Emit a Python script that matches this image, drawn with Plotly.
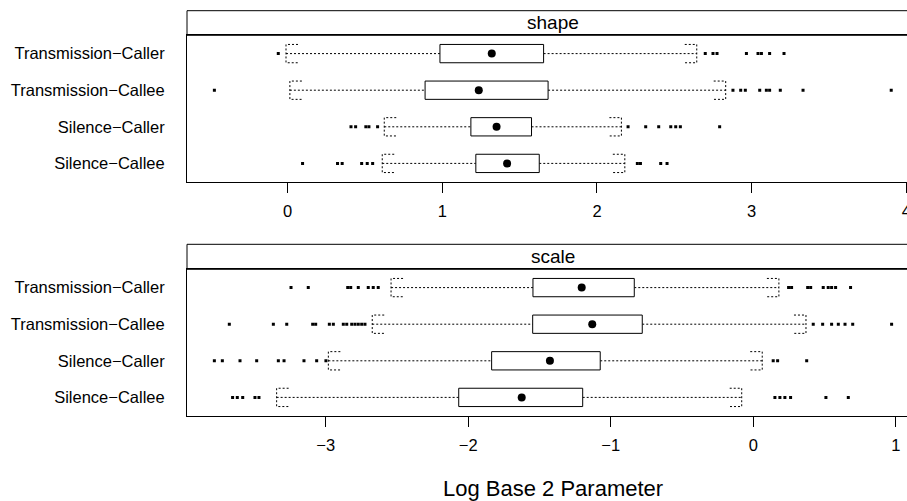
import plotly.graph_objects as go

# ---- data -------------------------------------------------------------
groups = ["Transmission−Caller", "Transmission−Callee", "Silence−Caller", "Silence−Callee"]
group_y = [4, 3, 2, 1]

# shape parameter: five-number summaries and outlying points per group
shape_lo = [-0.01, 0.015, 0.625, 0.612]
shape_q1 = [0.985, 0.889, 1.185, 1.217]
shape_med = [1.320, 1.236, 1.351, 1.419]
shape_q3 = [1.655, 1.684, 1.577, 1.627]
shape_hi = [2.645, 2.832, 2.158, 2.180]
shape_out = [
    [-0.06, 2.70, 2.75, 2.776, 2.966, 3.041, 3.063, 3.116, 3.209],
    [-0.473, 2.879, 2.929, 2.959, 3.052, 3.095, 3.116, 3.185, 3.332, 3.902],
    [0.41, 0.44, 0.506, 0.526, 0.582, 2.201, 2.315, 2.399, 2.477, 2.509, 2.539, 2.793],
    [0.097, 0.323, 0.353, 0.479, 0.515, 0.55, 2.261, 2.281, 2.412, 2.453],
]

# scale parameter
scale_lo = [-2.542, -2.674, -2.982, -3.345]
scale_q1 = [-1.546, -1.548, -1.836, -2.067]
scale_med = [-1.204, -1.130, -1.427, -1.625]
scale_q3 = [-0.835, -0.779, -1.074, -1.197]
scale_hi = [0.180, 0.370, 0.063, -0.081]
scale_out = [
    [-3.244, -3.123, -2.846, -2.825, -2.772, -2.702, -2.667, -2.632,
     0.248, 0.269, 0.382, 0.403, 0.491, 0.526, 0.550, 0.578, 0.683],
    [-3.677, -3.368, -3.274, -3.092, -3.071, -2.975, -2.947, -2.877, -2.853,
     -2.818, -2.795, -2.772, -2.748, -2.725,
     0.421, 0.487, 0.550, 0.597, 0.644, 0.698, 0.971],
    [-3.782, -3.726, -3.602, -3.485, -3.333, -3.293, -3.153, -3.064, -2.999,
     0.140, 0.171, 0.375],
    [-3.654, -3.621, -3.583, -3.497, -3.469, 0.152, 0.187, 0.222, 0.262, 0.510, 0.667],
]

shape_ticks = [0, 1, 2, 3, 4]
scale_ticks = [-3, -2, -1, 0, 1]

# ---- layout constants -------------------------------------------------
W, H = 907, 501
ML = 187
PLOT_W = W - ML
FONT = "Liberation Sans, Arial, Helvetica, sans-serif"
BOX_HALF = 0.25          # half box height, in row units
CAP_PX = 12              # length of the whisker end brackets, pixels
DOT = "2px,2px"

panels = [
    dict(name="shape", xa="x", ya="y", rng=[-0.65, 4.004], ticks=shape_ticks,
         lo=shape_lo, q1=shape_q1, med=shape_med, q3=shape_q3, hi=shape_hi, out=shape_out,
         top=35.3, bottom=181.7, strip_top=10.7),
    dict(name="scale", xa="x2", ya="y2", rng=[-3.974, 1.079], ticks=scale_ticks,
         lo=scale_lo, q1=scale_q1, med=scale_med, q3=scale_q3, hi=scale_hi, out=scale_out,
         top=269.3, bottom=415.7, strip_top=244.3),
]


def py(px):
    """pixel row (from the top) -> paper fraction"""
    return (H - px) / H


fig = go.Figure()
black = dict(color="black", width=1)
dotted = dict(color="black", width=1, dash=DOT)

for p in panels:
    cap = CAP_PX * (p["rng"][1] - p["rng"][0]) / PLOT_W
    for i, y in enumerate(group_y):
        lo, q1, med, q3, hi = p["lo"][i], p["q1"][i], p["med"][i], p["q3"][i], p["hi"][i]
        common = dict(xaxis=p["xa"], yaxis=p["ya"], showlegend=False, hoverinfo="skip")
        # whiskers
        fig.add_trace(go.Scatter(x=[lo, q1, None, q3, hi], y=[y, y, None, y, y],
                                 mode="lines", line=dotted, **common))
        # bracket-shaped whisker ends
        fig.add_trace(go.Scatter(
            x=[lo + cap, lo, lo, lo + cap, None, hi - cap, hi, hi, hi - cap],
            y=[y + BOX_HALF, y + BOX_HALF, y - BOX_HALF, y - BOX_HALF, None,
               y + BOX_HALF, y + BOX_HALF, y - BOX_HALF, y - BOX_HALF],
            mode="lines", line=dotted, **common))
        # box
        fig.add_trace(go.Scatter(
            x=[q1, q3, q3, q1, q1],
            y=[y - BOX_HALF, y - BOX_HALF, y + BOX_HALF, y + BOX_HALF, y - BOX_HALF],
            mode="lines", line=black, fill="toself", fillcolor="white", **common))
        # median
        fig.add_trace(go.Scatter(x=[med], y=[y], mode="markers",
                                 marker=dict(color="black", size=8, symbol="circle"), **common))
        # outliers
        fig.add_trace(go.Scatter(x=p["out"][i], y=[y] * len(p["out"][i]), mode="markers",
                                 marker=dict(color="black", size=3, symbol="square",
                                             line=dict(width=0)), **common))

layout = dict(
    width=W, height=H,
    margin=dict(l=ML, r=0, t=0, b=0),
    paper_bgcolor="white", plot_bgcolor="white",
    font=dict(family=FONT, size=16.5, color="black"),
    showlegend=False,
    shapes=[], annotations=[],
)

for k, p in enumerate(panels):
    sfx = "" if k == 0 else str(k + 1)
    layout["xaxis" + sfx] = dict(
        domain=[0, 1], anchor="y" + sfx, range=p["rng"], tickvals=p["ticks"],
        ticks="outside", ticklen=10, tickcolor="black", tickwidth=1,
        ticklabelstandoff=4, ticklabeloverflow="allow",
        showline=True, linecolor="black", linewidth=1, mirror=True,
        showgrid=False, zeroline=False, automargin=False,
        tickfont=dict(size=16.5),
    )
    layout["yaxis" + sfx] = dict(
        domain=[py(p["bottom"]), py(p["top"])], anchor="x" + sfx, range=[0.5, 4.5],
        tickvals=group_y, ticktext=groups, ticks="", ticklabelstandoff=18,
        showline=True, linecolor="black", linewidth=1, mirror=False,
        showgrid=False, zeroline=False, automargin=False,
        tickfont=dict(size=16.5),
    )
    # strip above the panel
    layout["shapes"].append(dict(
        type="rect", xref="paper", yref="paper", x0=0, x1=1.02,
        y0=py(p["top"]), y1=py(p["strip_top"]),
        line=dict(color="black", width=1), fillcolor="white", layer="below"))
    layout["annotations"].append(dict(
        text=p["name"], xref="paper", yref="paper",
        x=(552.5 - ML) / PLOT_W, y=py((p["top"] + p["strip_top"]) / 2),
        xanchor="center", yanchor="middle", showarrow=False,
        font=dict(size=19)))

layout["annotations"].append(dict(
    text="Log Base 2 Parameter", xref="paper", yref="paper",
    x=(552.5 - ML) / PLOT_W, y=py(488), xanchor="center", yanchor="middle",
    showarrow=False, font=dict(size=22)))

fig.update_layout(**layout)
fig.write_html("out.html")
